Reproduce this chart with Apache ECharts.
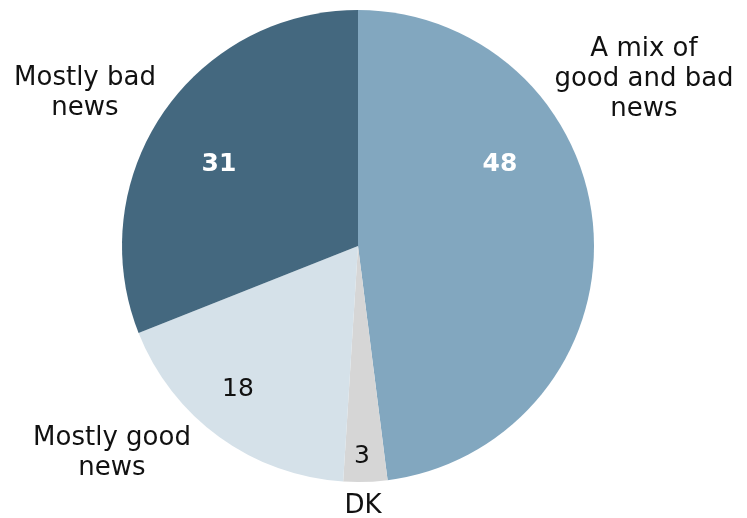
<!DOCTYPE html>
<html>
<head>
<meta charset="utf-8">
<script src="https://cdn.jsdelivr.net/npm/echarts@6/dist/echarts.min.js"></script>
<style>
  html, body { margin: 0; padding: 0; background: #fff; }
  #myChart { width: 747px; height: 518px; }
</style>
</head>
<body>
<div id="myChart"></div>
<script>
  // 数据
  var categories = ['A mix of\ngood and bad\nnews', 'DK', 'Mostly good\nnews', 'Mostly bad\nnews'];
  var values = [48, 3, 18, 31];
  var colors = ['#82a7bf', '#d6d6d6', '#d5e1e9', '#44687f'];
  var valueColors = ['#ffffff', '#111111', '#111111', '#ffffff'];
  var valueWeights = ['bold', 'normal', 'normal', 'bold'];

  // 标签位置（像素）
  var valuePos = [[500, 164], [362, 456], [238, 389], [219, 164]];
  var namePos = [[644, 79], [363, 506], [112, 453], [85, 93]];

  var pieData = values.map(function (v, i) {
    return {
      name: categories[i],
      value: v,
      itemStyle: { color: colors[i] },
      label: { color: valueColors[i], fontWeight: valueWeights[i] }
    };
  });
  var nameData = values.map(function (v, i) {
    return { name: categories[i], value: v };
  });

  var myChart = echarts.init(document.getElementById('myChart'));
  myChart.setOption({
    animation: false,
    backgroundColor: '#ffffff',
    series: [
      {
        type: 'pie',
        center: [358, 246],
        radius: 236,
        startAngle: 90,
        clockwise: true,
        silent: true,
        data: pieData,
        label: {
          show: true,
          position: 'inside',
          formatter: '{c}',
          fontFamily: 'DejaVu Sans',
          fontSize: 25
        },
        labelLine: { show: false },
        labelLayout: function (p) {
          var pos = valuePos[p.dataIndex];
          return { x: pos[0], y: pos[1], align: 'center', verticalAlign: 'middle' };
        }
      },
      {
        // 只画类别名称
        type: 'pie',
        center: [358, 246],
        radius: 236,
        startAngle: 90,
        clockwise: true,
        silent: true,
        data: nameData,
        itemStyle: { color: 'transparent' },
        label: {
          show: true,
          position: 'inside',
          formatter: '{b}',
          color: '#111111',
          fontFamily: 'DejaVu Sans',
          fontSize: 26,
          lineHeight: 30,
          align: 'center',
          overflow: 'none'
        },
        labelLine: { show: false },
        labelLayout: function (p) {
          var pos = namePos[p.dataIndex];
          return { x: pos[0], y: pos[1], align: 'center', verticalAlign: 'middle' };
        }
      }
    ]
  });
</script>
</body>
</html>
